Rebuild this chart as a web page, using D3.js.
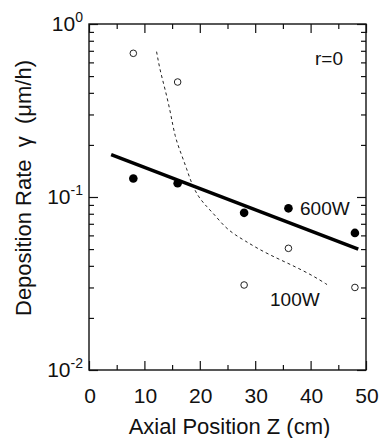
<!DOCTYPE html>
<html>
<head>
<meta charset="utf-8">
<script src="https://cdn.jsdelivr.net/npm/d3@7"></script>
<style>
  body { margin: 0; background: #fff; }
  text { font-family: "Liberation Sans", Arial, sans-serif; fill: #111; }
</style>
</head>
<body>
<script>
// deposition rate versus axial position, r=0

// measured points, 600W (filled) and 100W (open)
var zPos = [8, 16, 28, 36, 48];
var rate600 = [0.128, 0.120, 0.081, 0.086, 0.062];
var rate100 = [0.677, 0.462, 0.031, 0.0505, 0.030];

// fitted curve for 600W (straight on the log scale)
var fit600Z = [4, 48.6];
var fit600Rate = [0.176, 0.050];

// fitted curve for 100W (dashed)
var fit100Z = [12.2, 12.8, 13.7, 14.75, 15.5, 16.6, 17.6, 18.5, 19.7, 21.25,
               22.7, 24.5, 26.4, 28.2, 30.3, 32.7, 35.4, 38.1, 40.8, 43.1];
var fit100Rate = [0.692, 0.542, 0.425, 0.305, 0.223, 0.179, 0.1465, 0.120, 0.1004, 0.0879,
                  0.0787, 0.0671, 0.0603, 0.0557, 0.0507, 0.0462, 0.0421, 0.0383, 0.0345, 0.0310];

// tick values
var xMajor = [0, 10, 20, 30, 40, 50];
var xMinor = [5, 15, 25, 35, 45];
var yMajor = [1, 0.1, 0.01];
var yMajorExp = ["0", "-1", "-2"];
var yMinor = [0.02, 0.03, 0.04, 0.05, 0.06, 0.07, 0.08, 0.09,
              0.2, 0.3, 0.4, 0.5, 0.6, 0.7, 0.8, 0.9];

function drawChart(){

  var svgWidth = 384, svgHeight = 438;
  var left = 89, right = 366, top = 24, bottom = 370;

  var svg = d3.select("body")
              .append("svg")
              .attr("width", svgWidth)
              .attr("height", svgHeight);

  var xScale = d3.scaleLinear()
      .domain([0, 50])
      .range([left, right]);

  var yScale = d3.scaleLog()
      .domain([0.01, 1])
      .range([bottom, top]);

  // helper for ticks pointing inside the frame
  function tickAxis(axis, values, size, transform){
    var g = svg.append("g")
      .attr("transform", transform)
      .call(axis.tickValues(values).tickSize(-size).tickSizeOuter(0).tickFormat(""));
    g.select(".domain").remove();
    g.selectAll("line").attr("stroke", "#111").attr("stroke-width", 1.2);
    return g;
  }

  // bottom and top ticks
  tickAxis(d3.axisBottom(xScale), xMajor, 9, "translate(0," + bottom + ")");
  tickAxis(d3.axisBottom(xScale), xMinor, 5, "translate(0," + bottom + ")");
  tickAxis(d3.axisTop(xScale), xMajor, 9, "translate(0," + top + ")");
  tickAxis(d3.axisTop(xScale), xMinor, 5, "translate(0," + top + ")");

  // left and right ticks
  tickAxis(d3.axisLeft(yScale), yMajor, 9, "translate(" + left + ",0)");
  tickAxis(d3.axisLeft(yScale), yMinor, 5, "translate(" + left + ",0)");
  tickAxis(d3.axisRight(yScale), yMajor, 9, "translate(" + right + ",0)");
  tickAxis(d3.axisRight(yScale), yMinor, 5, "translate(" + right + ",0)");

  // frame
  svg.append("rect")
    .attr("x", left)
    .attr("y", top)
    .attr("width", right - left)
    .attr("height", bottom - top)
    .attr("fill", "none")
    .attr("stroke", "#111")
    .attr("stroke-width", 1.4);

  // x tick labels
  svg.selectAll(".xlabel")
    .data(xMajor)
    .enter()
    .append("text")
    .attr("class", "xlabel")
    .attr("x", function(d){ return xScale(d) + 1; })
    .attr("y", 403)
    .style("text-anchor", "middle")
    .style("font-size", "21px")
    .text(function(d){ return d; });

  // y tick labels with superscript exponent
  yMajor.forEach(function(v, i){
    var t = svg.append("text")
      .attr("x", 83)
      .attr("y", yScale(v) + 7)
      .style("text-anchor", "end")
      .style("font-size", "21px");
    t.append("tspan").text("10");
    t.append("tspan")
      .attr("dy", -9)
      .style("font-size", "14px")
      .text(yMajorExp[i]);
  });

  // axis titles
  svg.append("text")
    .attr("x", (left + right) / 2 + 2)
    .attr("y", 434)
    .style("text-anchor", "middle")
    .style("font-size", "22px")
    .text("Axial Position Z (cm)");

  svg.append("text")
    .attr("transform", "translate(31," + 188 + ") rotate(-90)")
    .style("text-anchor", "middle")
    .style("font-size", "22px")
    .style("white-space", "pre")
    .text("Deposition Rate  \u03b3  (\u03bcm/h)");

  // 100W fit, dashed; basis curve smooths the hand read points
  var fit100 = fit100Z.map(function(z, i){ return [z, fit100Rate[i]]; });
  var curve = d3.line()
    .x(function(d){ return xScale(d[0]); })
    .y(function(d){ return yScale(d[1]); })
    .curve(d3.curveBasis);

  svg.append("path")
    .datum(fit100)
    .attr("d", curve)
    .attr("fill", "none")
    .attr("stroke", "#222")
    .attr("stroke-width", 1)
    .attr("stroke-dasharray", "3,3");

  // 600W fit, thick line
  var fit600 = fit600Z.map(function(z, i){ return [z, fit600Rate[i]]; });
  var line = d3.line()
    .x(function(d){ return xScale(d[0]); })
    .y(function(d){ return yScale(d[1]); });

  svg.append("path")
    .datum(fit600)
    .attr("d", line)
    .attr("fill", "none")
    .attr("stroke", "#000")
    .attr("stroke-width", 3.5);

  // open circles
  svg.selectAll(".open")
    .data(zPos)
    .enter()
    .append("circle")
    .attr("class", "open")
    .attr("cx", function(d){ return xScale(d); })
    .attr("cy", function(d, i){ return yScale(rate100[i]); })
    .attr("r", 3.3)
    .attr("fill", "#fff")
    .attr("stroke", "#222")
    .attr("stroke-width", 1);

  // filled circles
  svg.selectAll(".filled")
    .data(zPos)
    .enter()
    .append("circle")
    .attr("class", "filled")
    .attr("cx", function(d){ return xScale(d); })
    .attr("cy", function(d, i){ return yScale(rate600[i]); })
    .attr("r", 4.3)
    .attr("fill", "#000");

  // labels inside the plot
  svg.append("text")
    .attr("x", 343)
    .attr("y", 65)
    .style("text-anchor", "end")
    .style("font-size", "19px")
    .text("r=0");

  svg.append("text")
    .attr("x", 300)
    .attr("y", 215)
    .style("font-size", "19px")
    .text("600W");

  svg.append("text")
    .attr("x", 270)
    .attr("y", 306)
    .style("font-size", "19px")
    .text("100W");
}

window.onload = function() {
  drawChart();
};
</script>
</body>
</html>
